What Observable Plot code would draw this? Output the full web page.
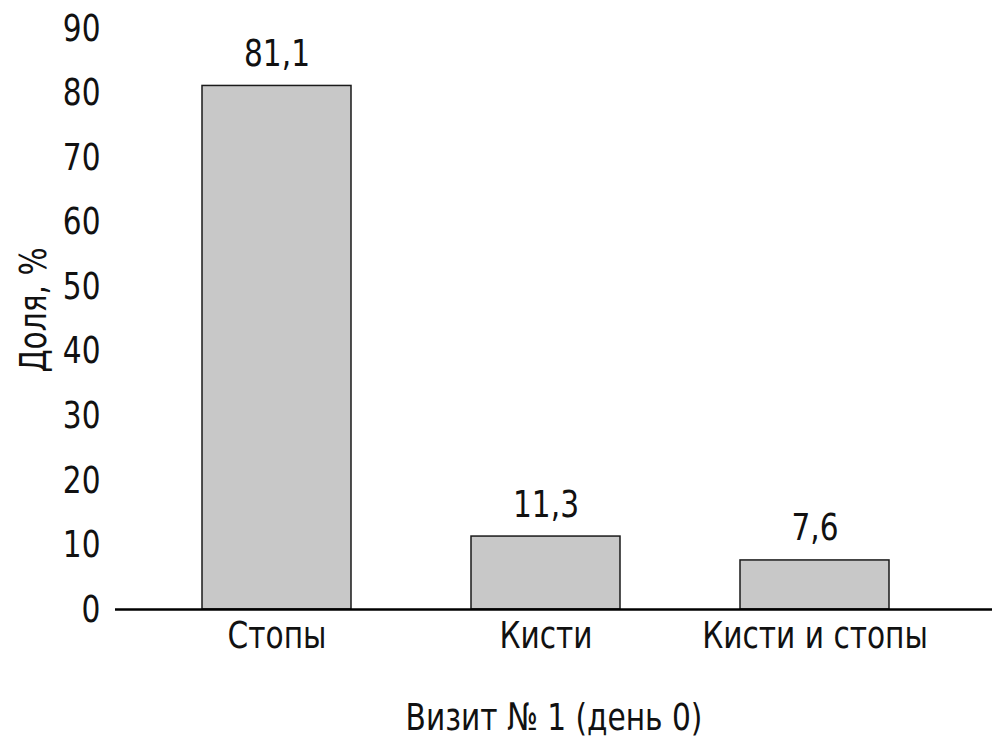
<!DOCTYPE html>
<html>
<head>
<meta charset="utf-8">
<script src="https://cdn.jsdelivr.net/npm/d3@7"></script>
<script src="https://cdn.jsdelivr.net/npm/@observablehq/plot@0.6"></script>
<style>
  html, body { margin: 0; padding: 0; background: #fff; }
  #chart svg { display: block; }
</style>
</head>
<body>
<div id="chart"></div>
<script>
const categories = ["Стопы", "Кисти", "Кисти и стопы"];
const values = [81.1, 11.3, 7.6];
const valueLabels = ["81,1", "11,3", "7,6"];
const yTicks = [0, 10, 20, 30, 40, 50, 60, 70, 80, 90];
const xTitle = "Визит № 1 (день 0)";
const yTitle = "Доля, %";

const data = categories.map((c, i) => ({cat: c, value: values[i], label: valueLabels[i]}));
const FONT = "'DejaVu Sans', sans-serif";
const FS = 38;

const chart = Plot.plot({
  width: 992,
  height: 746,
  marginLeft: 115,
  marginRight: 0,
  marginTop: 28,
  marginBottom: 137,
  style: {fontFamily: FONT, fontSize: FS + "px", color: "#111", background: "#fff"},
  x: {domain: categories, range: [201, 890], paddingInner: 0.446, paddingOuter: 0, label: null},
  y: {domain: [0, 90], label: null},
  marks: [
    Plot.axisY({ticks: yTicks, tickSize: 0, tickPadding: 15, label: null, fontSize: FS}),
    Plot.axisX({tickSize: 0, tickPadding: 12, label: null, fontSize: FS}),
    Plot.barY(data, {x: "cat", y: "value", fill: "#c8c8c8", stroke: "#1a1a1a", strokeWidth: 1.5}),
    Plot.ruleY([0], {stroke: "#000", strokeWidth: 2.5}),
    Plot.text(data, {x: "cat", y: "value", text: "label", lineAnchor: "bottom", dy: -20, fontSize: FS, fill: "#111"}),
    Plot.text([xTitle], {frameAnchor: "bottom", textAnchor: "middle", lineAnchor: "middle", dy: 108, fontSize: FS, fill: "#111"}),
    Plot.text([yTitle], {frameAnchor: "left", textAnchor: "middle", lineAnchor: "middle", rotate: -90, dx: -82, dy: -9, fontSize: FS, fill: "#111"})
  ]
});
document.getElementById("chart").appendChild(chart);

// Emulate the condensed typeface of the original by narrowing glyphs
chart.querySelectorAll("text").forEach(t => {
  const s = t.textContent.trim();
  if (!s) return;
  const numeric = /^[0-9,\.]+$/.test(s);
  const f = numeric ? 0.78 : 0.78;
  const spans = t.querySelectorAll("tspan");
  const targets = spans.length ? Array.from(spans) : [t];
  targets.forEach(el => {
    const len = el.getComputedTextLength();
    el.setAttribute("textLength", (len * f).toFixed(1));
    el.setAttribute("lengthAdjust", "spacingAndGlyphs");
  });
});
</script>
</body>
</html>
